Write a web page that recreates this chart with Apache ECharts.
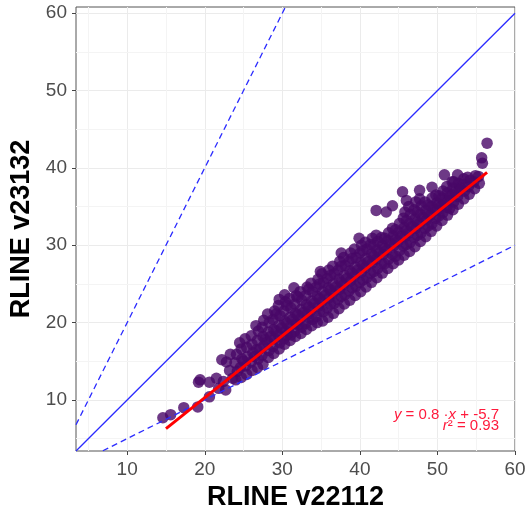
<!DOCTYPE html>
<html>
<head>
<meta charset="utf-8">
<script src="https://cdn.jsdelivr.net/npm/echarts@6/dist/echarts.min.js"></script>
<style>
  html, body { margin: 0; padding: 0; background: #fff; }
  #chart { width: 526px; height: 514px; }
</style>
</head>
<body>
<div id="chart"></div>
<script>
// Axis setup
const xRange = [3.4, 60.0];
const yRange = [3.4, 60.8];
const tickValues = [10, 20, 30, 40, 50, 60];
const minorValues = [5, 15, 25, 35, 45, 55];

// Fit reported on the plot: y = slope * x + intercept
const fitSlope = 0.8;
const fitIntercept = -5.7;
const fitR2 = 0.93;
const fitXSpan = [15.0, 56.4];

// Reference ratios: 1:1 line and factor-of-two bounds
const ratioSolid = 1;
const ratioDashed = [2, 0.5];

// Receptor comparison, v22112 (x) vs v23132 (y)
const lowTail = [
  [14.6, 7.7], [15.6, 8.1], [17.3, 9.0], [19.1, 9.1], [19.2, 12.3], [19.4, 12.6],
  [20.6, 12.3], [21.5, 12.8], [20.6, 10.4], [21.8, 11.5], [22.7, 11.3], [22.8, 14.9],
  [23.6, 12.8], [22.2, 15.2], [23.2, 13.8], [22.4, 12.4], [23.3, 15.9]
];
const band1 = [
  [24.0, 12.6], [24.2, 13.7], [23.9, 14.8], [24.1, 15.9],
  [24.7, 12.9], [24.6, 14.2], [24.8, 15.3], [24.7, 16.6], [24.5, 17.4],
  [25.4, 13.3], [25.3, 14.4], [25.5, 15.6], [25.4, 16.8], [25.2, 17.9],
  [26.1, 13.8], [26.0, 14.9], [26.2, 16.1], [26.1, 17.2], [26.0, 18.3],
  [26.8, 14.2], [26.9, 15.3], [26.7, 16.5], [26.8, 17.7], [26.9, 18.9], [26.6, 19.6],
  [27.5, 14.6], [27.4, 15.8], [27.6, 17.0], [27.5, 18.2], [27.4, 19.4], [27.6, 20.3],
  [28.2, 15.5], [28.3, 16.4], [28.1, 17.5], [28.2, 18.8], [28.3, 20.0], [28.1, 21.1],
  [28.9, 16.0], [28.8, 16.9], [29.0, 17.9], [28.9, 19.1], [28.8, 20.4], [29.0, 21.5]
];
const band2 = [
  [29.6, 16.6], [29.7, 17.4], [29.5, 18.4], [29.6, 19.7], [29.7, 20.9], [29.5, 22.2], [29.6, 23.0],
  [30.3, 17.2], [30.2, 17.9], [30.4, 18.9], [30.3, 20.2], [30.2, 21.5], [30.4, 22.7], [30.3, 23.6],
  [31.0, 17.7], [31.1, 18.4], [30.9, 19.4], [31.0, 20.7], [31.1, 21.9], [30.9, 23.1], [31.5, 24.5],
  [31.7, 18.2], [31.6, 18.9], [31.8, 19.9], [31.7, 21.2], [31.6, 22.4], [31.8, 23.5],
  [32.4, 18.6], [32.5, 19.4], [32.3, 20.5], [32.4, 21.7], [32.5, 22.9], [32.3, 24.0],
  [33.1, 19.1], [33.0, 19.9], [33.2, 21.1], [33.1, 22.3], [33.0, 23.5], [33.2, 24.6],
  [33.8, 19.6], [33.9, 20.4], [33.7, 21.6], [33.8, 22.8], [33.9, 24.0], [33.7, 25.1],
  [34.5, 20.0], [34.4, 20.8], [34.6, 22.1], [34.5, 23.4], [34.4, 24.6], [34.6, 25.6], [34.9, 26.6]
];
const band3 = [
  [35.2, 20.2], [35.3, 21.4], [35.1, 22.7], [35.2, 24.0], [35.3, 25.2], [35.1, 26.3],
  [35.9, 20.7], [35.8, 21.9], [36.0, 23.2], [35.9, 24.5], [35.8, 25.7], [36.0, 26.8],
  [36.6, 21.2], [36.7, 22.5], [36.5, 23.8], [36.6, 25.0], [36.7, 26.3], [36.5, 27.3],
  [37.3, 21.8], [37.2, 23.0], [37.4, 24.3], [37.3, 25.6], [37.2, 26.8], [37.4, 27.9], [37.6, 29.0],
  [38.0, 22.4], [38.1, 23.6], [37.9, 24.9], [38.0, 26.1], [38.1, 27.4], [37.9, 28.4],
  [38.7, 22.9], [38.6, 24.1], [38.8, 25.4], [38.7, 26.7], [38.6, 27.9], [38.8, 29.0],
  [39.4, 23.5], [39.5, 24.7], [39.3, 26.0], [39.4, 27.2], [39.5, 28.4], [39.3, 29.5],
  [40.1, 24.0], [40.0, 25.2], [40.2, 26.5], [40.1, 27.8], [40.0, 29.0], [40.2, 30.0], [39.9, 30.9]
];
const band4 = [
  [40.8, 24.6], [40.9, 25.8], [40.7, 27.1], [40.8, 28.3], [40.9, 29.5], [40.7, 30.4],
  [41.5, 25.2], [41.4, 26.4], [41.6, 27.7], [41.5, 28.9], [41.4, 30.1], [41.6, 30.9],
  [42.2, 25.8], [42.3, 27.0], [42.1, 28.2], [42.2, 29.4], [42.3, 30.5], [42.1, 31.3],
  [42.9, 26.4], [42.8, 27.6], [43.0, 28.8], [42.9, 30.0], [42.8, 31.0],
  [43.6, 27.0], [43.7, 28.2], [43.5, 29.4], [43.6, 30.6], [43.7, 31.6],
  [44.3, 27.6], [44.2, 28.8], [44.4, 30.0], [44.3, 31.2], [44.2, 32.2],
  [45.0, 28.1], [45.1, 29.3], [44.9, 30.5], [45.0, 31.7], [45.1, 32.8],
  [45.7, 28.7], [45.6, 29.9], [45.8, 31.1], [45.7, 32.3], [45.6, 33.5], [45.8, 34.3],
  [46.4, 29.2], [46.5, 30.4], [46.3, 31.6], [46.4, 32.8], [46.5, 34.0], [46.3, 35.0], [46.0, 35.8]
];
const band5 = [
  [47.1, 29.8], [47.0, 31.0], [47.2, 32.2], [47.1, 33.4], [47.0, 34.6], [47.2, 35.6],
  [47.8, 30.5], [47.9, 31.6], [47.7, 32.8], [47.8, 34.0], [47.9, 35.1], [47.7, 36.0],
  [48.5, 31.1], [48.4, 32.2], [48.6, 33.3], [48.5, 34.5], [48.4, 35.6],
  [49.2, 31.8], [49.3, 32.8], [49.1, 33.9], [49.2, 35.0], [49.3, 36.1],
  [49.9, 32.5], [49.8, 33.5], [50.0, 34.5], [49.9, 35.5], [49.8, 36.5],
  [50.6, 33.2], [50.7, 34.2], [50.5, 35.1], [50.6, 36.1], [50.7, 37.0],
  [51.3, 33.9], [51.2, 34.9], [51.4, 35.8], [51.3, 36.8], [51.2, 37.6],
  [52.0, 34.6], [52.1, 35.6], [51.9, 36.5], [52.0, 37.4], [52.1, 38.2],
  [52.7, 35.3], [52.6, 36.3], [52.8, 37.2], [52.7, 38.0],
  [53.4, 36.0], [53.5, 37.0], [53.3, 37.9], [53.4, 38.6],
  [54.1, 36.6], [54.0, 37.6], [54.2, 38.4],
  [54.8, 37.3], [54.7, 38.2], [54.9, 39.0],
  [55.4, 38.0], [55.3, 38.9]
];
const core = [
  [25.0, 15.0], [26.4, 15.6], [27.1, 16.6], [27.8, 17.8], [28.5, 18.2], [29.2, 18.9],
  [29.9, 19.3], [30.6, 19.9], [31.3, 20.4], [32.0, 21.0], [32.7, 21.3], [33.4, 22.0],
  [34.1, 22.5], [34.8, 23.1], [35.5, 23.5], [36.2, 24.2], [36.9, 24.6], [37.6, 25.2],
  [38.3, 25.7], [39.0, 26.4], [39.7, 26.8], [40.4, 27.4], [41.1, 27.9], [41.8, 28.6],
  [42.5, 29.0], [43.2, 29.6], [43.9, 30.2], [44.6, 30.7], [45.3, 31.2], [46.0, 31.9],
  [46.7, 32.4], [47.4, 33.0], [48.1, 33.6], [48.8, 34.0], [49.5, 34.7], [50.2, 35.3],
  [50.9, 35.6], [51.6, 36.3], [52.3, 36.9], [53.0, 37.4],
  [29.2, 21.1], [30.6, 22.2], [32.0, 23.3], [33.4, 24.3], [34.8, 25.0], [36.2, 26.1],
  [37.6, 27.3], [39.0, 28.3], [40.4, 29.3], [41.8, 30.0], [43.2, 30.9], [44.6, 32.0],
  [46.0, 33.2], [47.4, 34.3], [48.8, 35.2], [50.2, 36.4],
  [30.6, 18.4], [32.0, 19.7], [33.4, 20.6], [34.8, 21.5], [36.2, 22.4], [37.6, 23.4],
  [39.0, 24.5], [40.4, 25.5], [41.8, 26.6], [43.2, 27.6], [44.6, 28.6], [46.0, 30.1],
  [47.4, 31.3], [48.8, 32.5], [50.2, 33.8], [51.6, 34.8]
];
const upperTail = [
  [56.4, 43.2], [55.7, 41.3], [55.8, 40.6], [50.9, 39.1], [52.6, 39.1], [51.9, 38.2],
  [53.9, 38.8], [45.5, 36.9], [47.7, 37.1], [49.3, 37.5], [44.2, 35.1], [42.1, 34.5],
  [43.4, 34.3]
];

const points = [].concat(lowTail, band1, band2, band3, band4, band5, core, upperTail);

function ratioLine(r) {
  return [[xRange[0], xRange[0] * r], [xRange[1], xRange[1] * r]];
}
const fitLine = fitXSpan.map(x => [x, fitSlope * x + fitIntercept]);

const font = '"Liberation Sans", Arial, sans-serif';
const red = '#ff1a3c';
const chart = echarts.init(document.getElementById('chart'), null, { renderer: 'canvas' });

chart.setOption({
  backgroundColor: '#ffffff',
  animation: false,
  grid: {
    left: 76, right: 11, top: 7, bottom: 63,
    outerBoundsMode: 'none', containLabel: false,
    show: true, borderColor: '#555555', borderWidth: 1, backgroundColor: 'transparent'
  },
  xAxis: {
    type: 'value', min: xRange[0], max: xRange[1],
    name: 'RLINE v22112', nameLocation: 'middle', nameGap: 32,
    nameTextStyle: { fontFamily: font, fontSize: 27, fontWeight: 'bold', color: '#000' },
    axisLine: { show: false },
    axisTick: { show: true, customValues: tickValues, length: 4, lineStyle: { color: '#444' } },
    axisLabel: { customValues: tickValues, fontFamily: font, fontSize: 19, color: '#4d4d4d', margin: 9 },
    splitLine: { show: true, lineStyle: { color: '#ebebeb', width: 1 } }
  },
  yAxis: {
    type: 'value', min: yRange[0], max: yRange[1],
    name: 'RLINE v23132', nameLocation: 'middle', nameGap: 35, nameRotate: 90,
    nameTextStyle: { fontFamily: font, fontSize: 27, fontWeight: 'bold', color: '#000' },
    axisLine: { show: false },
    axisTick: { show: true, customValues: tickValues, length: 4, lineStyle: { color: '#444' } },
    axisLabel: { customValues: tickValues, fontFamily: font, fontSize: 19, color: '#4d4d4d', margin: 9 },
    splitLine: { show: true, lineStyle: { color: '#ebebeb', width: 1 } }
  },
  graphic: [
    {
      type: 'text', right: 27, top: 407, zlevel: 2,
      style: {
        text: '{i|y} = 0.8 ·{i|x} + -5.7',
        fill: red, font: '15px ' + font, textAlign: 'right',
        rich: { i: { fontStyle: 'italic', fill: red, fontSize: 15, fontFamily: font } }
      }
    },
    {
      type: 'text', right: 27, top: 418, zlevel: 2,
      style: {
        text: '{i|r}\u00B2 = ' + fitR2.toFixed(2),
        fill: red, font: '15px ' + font, textAlign: 'right',
        rich: { i: { fontStyle: 'italic', fill: red, fontSize: 15, fontFamily: font } }
      }
    }
  ],
  series: [
    {
      // minor grid lines at the half-decades
      type: 'line', data: minorValues.map(v => [v, yRange[0]]), showSymbol: false, silent: true,
      lineStyle: { opacity: 0 }, zlevel: 0,
      markLine: {
        silent: true, symbol: 'none', label: { show: false },
        lineStyle: { color: '#f4f4f4', width: 1, type: 'solid' },
        data: minorValues.map(v => ({ xAxis: v })).concat(minorValues.map(v => ({ yAxis: v })))
      }
    },
    {
      type: 'scatter', data: points, symbolSize: 11.5, zlevel: 1, z: 2,
      itemStyle: { color: '#480868', opacity: 0.8 }
    },
    {
      type: 'line', data: ratioLine(ratioSolid), showSymbol: false, clip: true, zlevel: 1, z: 3,
      lineStyle: { color: '#2b2bff', width: 1.3 }
    },
    {
      type: 'line', data: ratioLine(ratioDashed[0]), showSymbol: false, clip: true, zlevel: 1, z: 3,
      lineStyle: { color: '#2b2bff', width: 1.3, type: [6, 4] }
    },
    {
      type: 'line', data: ratioLine(ratioDashed[1]), showSymbol: false, clip: true, zlevel: 1, z: 3,
      lineStyle: { color: '#2b2bff', width: 1.3, type: [6, 4] }
    },
    {
      type: 'line', data: fitLine, showSymbol: false, zlevel: 1, z: 4,
      lineStyle: { color: '#ff0000', width: 3 }
    }
  ]
});
</script>
</body>
</html>
